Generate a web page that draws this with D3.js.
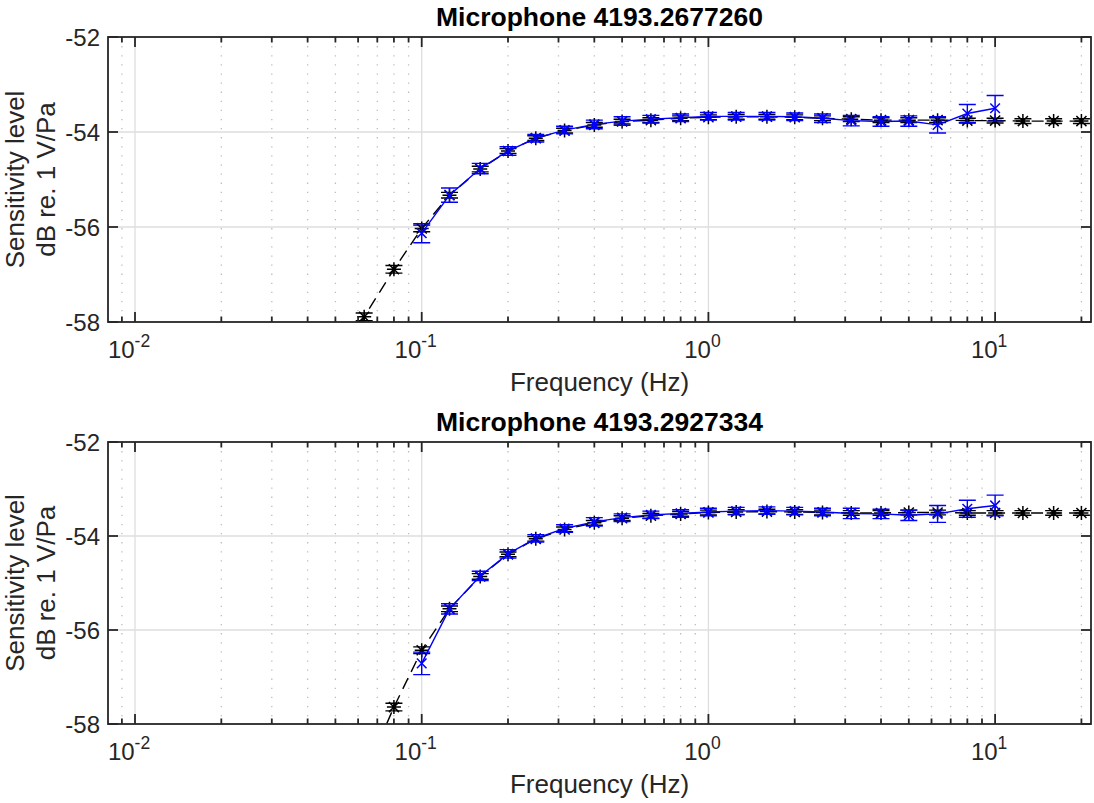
<!DOCTYPE html>
<html>
<head>
<meta charset="utf-8">
<script src="https://cdn.jsdelivr.net/npm/d3@7/dist/d3.min.js"></script>
<style>
  html, body { margin: 0; padding: 0; background: #fff; }
  svg { display: block; font-family: "Liberation Sans", Arial, Helvetica, sans-serif; }
</style>
</head>
<body>
<svg id="chart" width="1094" height="803"></svg>
<script>
// Third-octave frequencies of the reference calibration (Hz)
const refFreqTop = [0.05, 0.063, 0.08, 0.1, 0.125, 0.16, 0.2, 0.25, 0.315, 0.4, 0.5, 0.63, 0.8, 1, 1.25, 1.6, 2, 2.5, 3.15, 4, 5, 6.3, 8, 10, 12.5, 16, 20];
const refFreqBottom = [0.063, 0.08, 0.1, 0.125, 0.16, 0.2, 0.25, 0.315, 0.4, 0.5, 0.63, 0.8, 1, 1.25, 1.6, 2, 2.5, 3.15, 4, 5, 6.3, 8, 10, 12.5, 16, 20];
// Frequencies of the comparison measurement (Hz)
const measFreq = [0.1, 0.125, 0.16, 0.2, 0.25, 0.315, 0.4, 0.5, 0.63, 0.8, 1, 1.25, 1.6, 2, 2.5, 3.15, 4, 5, 6.3, 8, 10];

// Microphone 4193.2677260
const refLevelTop = [-59.15, -57.89, -56.89, -56.03, -55.33, -54.78, -54.40, -54.13, -53.97, -53.85, -53.78, -53.75, -53.71, -53.69, -53.68, -53.68, -53.69, -53.71, -53.73, -53.75, -53.75, -53.75, -53.76, -53.76, -53.77, -53.77, -53.77];
const refErrTop = [0.08, 0.08, 0.08, 0.07, 0.06, 0.06, 0.05, 0.05, 0.05, 0.05, 0.05, 0.05, 0.05, 0.05, 0.05, 0.05, 0.05, 0.05, 0.05, 0.05, 0.05, 0.05, 0.05, 0.05, 0.05, 0.05, 0.05];
const measLevelTop = [-56.13, -55.33, -54.77, -54.40, -54.13, -53.96, -53.84, -53.77, -53.73, -53.70, -53.67, -53.67, -53.67, -53.68, -53.71, -53.76, -53.78, -53.77, -53.85, -53.61, -53.50];
const measErrTop = [0.20, 0.15, 0.11, 0.09, 0.08, 0.08, 0.09, 0.09, 0.08, 0.08, 0.08, 0.08, 0.08, 0.08, 0.09, 0.11, 0.10, 0.11, 0.17, 0.19, 0.27];

// Microphone 4193.2927334
const refLevelBottom = [-59.10, -57.64, -56.43, -55.55, -54.86, -54.39, -54.06, -53.86, -53.72, -53.62, -53.57, -53.53, -53.50, -53.49, -53.48, -53.49, -53.50, -53.51, -53.51, -53.50, -53.50, -53.51, -53.51, -53.51, -53.51, -53.51];
const refErrBottom = [0.08, 0.08, 0.07, 0.06, 0.06, 0.05, 0.05, 0.05, 0.05, 0.05, 0.05, 0.05, 0.05, 0.05, 0.05, 0.05, 0.05, 0.05, 0.05, 0.05, 0.05, 0.05, 0.05, 0.05, 0.05, 0.05];
const measLevelBottom = [-56.71, -55.55, -54.85, -54.38, -54.05, -53.84, -53.70, -53.61, -53.55, -53.52, -53.49, -53.47, -53.46, -53.47, -53.49, -53.52, -53.53, -53.56, -53.53, -53.42, -53.35];
const measErrBottom = [0.24, 0.11, 0.10, 0.09, 0.08, 0.08, 0.09, 0.08, 0.08, 0.08, 0.08, 0.08, 0.08, 0.08, 0.08, 0.11, 0.10, 0.11, 0.18, 0.18, 0.22];

const titles = ["Microphone 4193.2677260", "Microphone 4193.2927334"];
const xLabel = "Frequency (Hz)";
const yLabelLines = ["Sensitivity level", "dB re. 1 V/Pa"];
const xDomain = [0.00805, 21.6];
const yDomain = [-58, -52];
const yTickValues = [-58, -56, -54, -52];
const xMajorTicks = [0.01, 0.1, 1, 10];
const xTickExponents = ["-2", "-1", "0", "1"];

const AX = "#262626";
const svg = d3.select("#chart");

function starPath(r) {
  const d = r * 0.72;
  return `M${-r},0L${r},0M0,${-r}L0,${r}M${-d},${-d}L${d},${d}M${-d},${d}L${d},${-d}`;
}
function crossPath(r) {
  return `M${-r},${-r}L${r},${r}M${-r},${r}L${r},${-r}`;
}

function drawPanel(idx, top, bottom, series) {
  const left = 108, right = 1091;
  const x = d3.scaleLog().domain(xDomain).range([left, right]);
  const y = d3.scaleLinear().domain(yDomain).range([bottom, top]);
  const g = svg.append("g");

  // minor grid (dotted) at 2..9 x 10^k
  const minor = [];
  for (let e = -3; e <= 1; e++) {
    for (let m = 2; m <= 9; m++) {
      const v = m * Math.pow(10, e);
      if (v > xDomain[0] && v < xDomain[1]) minor.push(v);
    }
  }
  g.selectAll(".mgrid").data(minor).enter().append("line")
    .attr("x1", d => x(d)).attr("x2", d => x(d))
    .attr("y1", top).attr("y2", bottom)
    .attr("stroke", "#bdbdbd").attr("stroke-width", 1.3)
    .attr("stroke-dasharray", "1.3,7.8");
  g.selectAll(".xgrid").data(xMajorTicks).enter().append("line")
    .attr("x1", d => x(d)).attr("x2", d => x(d))
    .attr("y1", top).attr("y2", bottom)
    .attr("stroke", "#dedede").attr("stroke-width", 1.3);
  g.selectAll(".ygrid").data(yTickValues.filter(v => v > yDomain[0] && v < yDomain[1])).enter().append("line")
    .attr("x1", left).attr("x2", right)
    .attr("y1", d => y(d)).attr("y2", d => y(d))
    .attr("stroke", "#dedede").attr("stroke-width", 1.3);

  // data, clipped to the axes box
  const clipId = "clip" + idx;
  svg.append("clipPath").attr("id", clipId).append("rect")
    .attr("x", left).attr("y", top).attr("width", right - left).attr("height", bottom - top);
  const dg = g.append("g").attr("clip-path", `url(#${clipId})`);

  series.forEach(s => {
    const pts = s.freq.map((f, i) => ({ f, v: s.level[i], e: s.err[i] }));
    const line = d3.line().x(d => x(d.f)).y(d => y(d.v));
    dg.append("path").datum(pts)
      .attr("d", line)
      .attr("fill", "none").attr("stroke", s.color).attr("stroke-width", 1.4)
      .attr("stroke-dasharray", s.dash || null);
    const cap = 8.5;
    const eb = dg.append("g").attr("stroke", s.color).attr("stroke-width", 1.4).attr("fill", "none");
    pts.forEach(p => {
      const cx = x(p.f), y1 = y(p.v + p.e), y2 = y(p.v - p.e);
      eb.append("path").attr("d", `M${cx},${y1}L${cx},${y2}M${cx - cap},${y1}L${cx + cap},${y1}M${cx - cap},${y2}L${cx + cap},${y2}`);
    });
    dg.append("g").selectAll("path").data(pts).enter().append("path")
      .attr("transform", d => `translate(${x(d.f)},${y(d.v)})`)
      .attr("d", s.marker === "star" ? starPath(7) : crossPath(4.8))
      .attr("fill", "none").attr("stroke", s.color).attr("stroke-width", 1.5);
  });

  // box
  g.append("rect").attr("x", left).attr("y", top).attr("width", right - left).attr("height", bottom - top)
    .attr("fill", "none").attr("stroke", AX).attr("stroke-width", 1.8);

  // ticks (inward, on all four sides)
  const tk = g.append("g").attr("stroke", AX).attr("stroke-width", 1.8);
  xMajorTicks.forEach(v => {
    tk.append("line").attr("x1", x(v)).attr("x2", x(v)).attr("y1", bottom).attr("y2", bottom - 10);
    tk.append("line").attr("x1", x(v)).attr("x2", x(v)).attr("y1", top).attr("y2", top + 10);
  });
  minor.forEach(v => {
    tk.append("line").attr("x1", x(v)).attr("x2", x(v)).attr("y1", bottom).attr("y2", bottom - 5.5);
    tk.append("line").attr("x1", x(v)).attr("x2", x(v)).attr("y1", top).attr("y2", top + 5.5);
  });
  yTickValues.forEach(v => {
    tk.append("line").attr("x1", left).attr("x2", left + 10).attr("y1", y(v)).attr("y2", y(v));
    tk.append("line").attr("x1", right).attr("x2", right - 10).attr("y1", y(v)).attr("y2", y(v));
  });

  // y tick labels
  g.selectAll(".ylab").data(yTickValues).enter().append("text")
    .attr("x", left - 8).attr("y", d => y(d) + 8.5)
    .attr("text-anchor", "end").attr("font-size", 24).attr("fill", AX)
    .text(d => d3.format("d")(d).replace("\u2212", "-"));

  // x tick labels 10^k
  xMajorTicks.forEach((v, i) => {
    const t = g.append("text").attr("x", x(v) - 6).attr("y", bottom + 36)
      .attr("text-anchor", "middle").attr("fill", AX);
    t.append("tspan").attr("font-size", 24).text("10");
    t.append("tspan").attr("font-size", 17.5).attr("dy", -11).text(xTickExponents[i]);
  });

  // axis labels and title
  const cx = (left + right) / 2;
  g.append("text").attr("x", cx).attr("y", bottom + 69)
    .attr("text-anchor", "middle").attr("font-size", 26).attr("fill", AX).text(xLabel);
  const cy = (top + bottom) / 2;
  g.append("text").attr("transform", `translate(24,${cy}) rotate(-90)`)
    .attr("text-anchor", "middle").attr("font-size", 26).attr("fill", AX).text(yLabelLines[0]);
  g.append("text").attr("transform", `translate(55,${cy}) rotate(-90)`)
    .attr("text-anchor", "middle").attr("font-size", 26).attr("fill", AX).text(yLabelLines[1]);
  g.append("text").attr("x", cx).attr("y", top - 11)
    .attr("text-anchor", "middle").attr("font-size", 26.5).attr("font-weight", "bold").attr("fill", "#000").text(titles[idx]);
}

drawPanel(0, 37, 322, [
  { freq: refFreqTop, level: refLevelTop, err: refErrTop, color: "#000000", dash: "12,7", marker: "star" },
  { freq: measFreq, level: measLevelTop, err: measErrTop, color: "#0000ff", marker: "cross" }
]);
drawPanel(1, 442, 724, [
  { freq: refFreqBottom, level: refLevelBottom, err: refErrBottom, color: "#000000", dash: "12,7", marker: "star" },
  { freq: measFreq, level: measLevelBottom, err: measErrBottom, color: "#0000ff", marker: "cross" }
]);
</script>
</body>
</html>
